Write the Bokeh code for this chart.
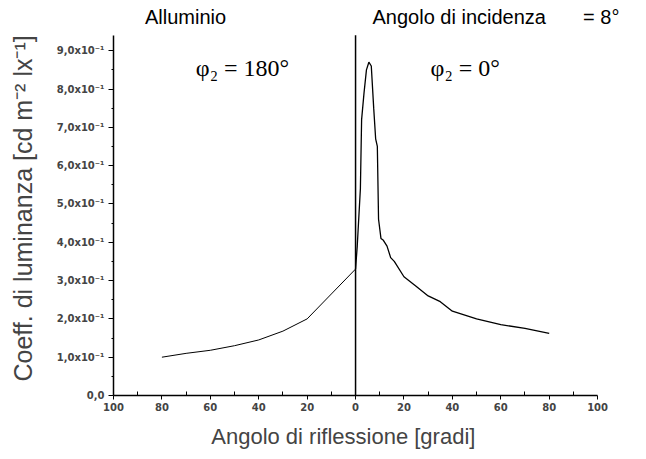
from bokeh.plotting import figure
from bokeh.models import Label, FixedTicker
from bokeh.embed import file_html
from bokeh.resources import INLINE

# Data (reflection angle in degrees; phi2=180 side plotted as negative)
left_x = [-80, -70, -60, -50, -40, -30, -20, -10, 0]
left_y = [1.0, 1.1, 1.18, 1.3, 1.45, 1.68, 2.0, 2.65, 3.3]

right_x = [0, 0.7, 2, 2.5, 3.5, 4.5, 5.5, 6.5, 7.5, 8.3, 9, 9.5, 10.5, 11.5, 13, 14.5, 16, 20, 25, 30, 35, 40, 50, 60, 70, 80]
right_y = [3.3, 3.9, 5.4, 7.2, 7.9, 8.5, 8.7, 8.6, 7.5, 6.7, 6.5, 4.6, 4.1, 4.05, 3.9, 3.6, 3.5, 3.1, 2.85, 2.6, 2.45, 2.2, 2.0, 1.85, 1.75, 1.62]

x_ticks = [-100, -80, -60, -40, -20, 0, 20, 40, 60, 80, 100]
x_tick_labels = ["100", "80", "60", "40", "20", "0", "20", "40", "60", "80", "100"]
y_ticks = [0, 1, 2, 3, 4, 5, 6, 7, 8, 9]
y_tick_labels = ["0,0"] + ["%d,0x10\u207b\u00b9" % k for k in range(1, 10)]

divider_x = [0, 0]
divider_y = [0, 9.4]

NB = "\u00a0"

p = figure(width=646, height=451, output_backend="svg", toolbar_location=None,
           x_range=(-100, 120.2), y_range=(0, 10.31),
           min_border_left=113, min_border_right=0, min_border_top=0, min_border_bottom=56)
p.outline_line_color = None
p.xgrid.grid_line_color = None
p.ygrid.grid_line_color = None
p.background_fill_color = "white"
p.border_fill_color = "white"

p.line(left_x, left_y, line_color="black", line_width=1)
p.line(right_x, right_y, line_color="black", line_width=1.3)
p.line(divider_x, divider_y, line_color="black", line_width=1.5)

# X axis
xa = p.xaxis[0]
xa.bounds = (-100, 100)
xa.ticker = FixedTicker(ticks=x_ticks, minor_ticks=list(range(-90, 100, 20)))
xa.major_label_overrides = {t: l for t, l in zip(x_ticks, x_tick_labels)}
xa.major_tick_out = 4
xa.major_tick_in = 0
xa.minor_tick_in = 4
xa.minor_tick_out = 0
xa.axis_line_width = 1.5
xa.major_label_text_font = "DejaVu Sans"
xa.major_label_text_font_style = "bold"
xa.major_label_text_font_size = "10px"
xa.major_label_standoff = 3
xa.axis_label = "Angolo di riflessione [gradi]" + NB * 12
xa.axis_label_text_font = "Liberation Sans"
xa.axis_label_text_font_style = "normal"
xa.axis_label_text_font_size = "22px"
xa.axis_label_standoff = 10

# Y axis
ya = p.yaxis[0]
ya.bounds = (0, 9.4)
ya.ticker = FixedTicker(ticks=y_ticks, minor_ticks=[0.5 + k for k in range(9)])
ya.major_label_overrides = {t: l for t, l in zip(y_ticks, y_tick_labels)}
ya.major_tick_out = 5
ya.major_tick_in = 0
ya.minor_tick_out = 2
ya.minor_tick_in = 0
ya.axis_line_width = 1.5
ya.major_label_text_font = "DejaVu Sans"
ya.major_label_text_font_style = "bold"
ya.major_label_text_font_size = "10px"
ya.major_label_standoff = 4
ya.axis_label = "Coeff. di luminanza [cd m\u207b\u00b2 lx\u207b\u00b9]" + NB * 3
ya.axis_label_text_font = "Liberation Sans"
ya.axis_label_text_font_style = "normal"
ya.axis_label_text_font_size = "25px"
ya.axis_label_standoff = 17

# Annotations
p.add_layout(Label(x=-87, y=9.87, text="Alluminio", text_font="Liberation Sans",
                   text_font_size="20px", text_baseline="middle", text_color="black"))
p.add_layout(Label(x=7, y=9.87, text="Angolo di incidenza", text_font="Liberation Sans",
                   text_font_size="20px", text_baseline="middle", text_color="black"))
p.add_layout(Label(x=94, y=9.87, text="= 8\u00b0", text_font="Liberation Sans",
                   text_font_size="20px", text_baseline="middle", text_color="black"))
p.add_layout(Label(x=-66, y=8.55, text="\u03c6\u2082 = 180\u00b0", text_font="Liberation Serif",
                   text_font_size="24px", text_baseline="middle", text_color="black"))
p.add_layout(Label(x=31, y=8.55, text="\u03c6\u2082 = 0\u00b0", text_font="Liberation Serif",
                   text_font_size="24px", text_baseline="middle", text_color="black"))

open("out.html", "w").write(file_html(p, INLINE))
